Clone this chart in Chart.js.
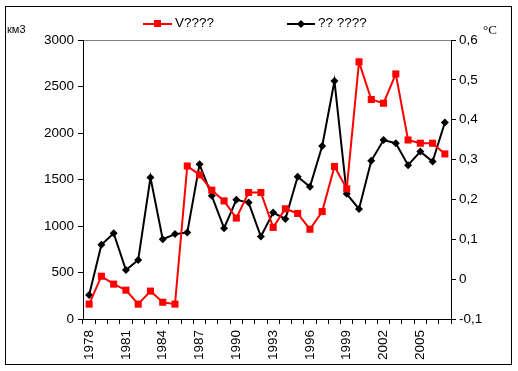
<!DOCTYPE html>
<html>
<head>
<meta charset="utf-8">
<script src="https://cdn.jsdelivr.net/npm/chart.js@4"></script>
<style>
  html, body { margin: 0; padding: 0; background: #fff; }
  #wrap { width: 518px; height: 371px; }
</style>
</head>
<body>
<div id="wrap"><canvas id="chart" width="518" height="371"></canvas></div>
<script>
// Data
const years = [1978, 1979, 1980, 1981, 1982, 1983, 1984, 1985, 1986, 1987,
               1988, 1989, 1990, 1991, 1992, 1993, 1994, 1995, 1996, 1997,
               1998, 1999, 2000, 2001, 2002, 2003, 2004, 2005, 2006, 2007];
const volume = [160, 460, 375, 310, 160, 300, 180, 160, 1645, 1550,
                1385, 1270, 1085, 1360, 1360, 985, 1185, 1135, 965, 1155,
                1640, 1400, 2765, 2360, 2320, 2635, 1925, 1890, 1890, 1775];
const temperature = [-0.04, 0.086, 0.115, 0.023, 0.048, 0.255, 0.1, 0.113, 0.117, 0.288,
                     0.209, 0.128, 0.199, 0.192, 0.107, 0.167, 0.151, 0.257, 0.232, 0.334,
                     0.497, 0.214, 0.176, 0.297, 0.349, 0.341, 0.286, 0.32, 0.295, 0.393];
const seriesNames = ['V????', '?? ????'];
const leftTicks = { min: 0, max: 3000, step: 500 };
const rightTicks = { min: -0.1, max: 0.6, step: 0.1 };

const font = { family: 'Liberation Sans, Arial, sans-serif', size: 13.5 };

// Frame, axis titles and legend
const extras = {
    id: 'extras',
    afterDraw(chart) {
        const ctx = chart.ctx;
        ctx.save();
        ctx.strokeStyle = '#000';
        ctx.lineWidth = 1;
        ctx.strokeRect(5.5, 6.5, 506, 358);

        ctx.fillStyle = '#000';
        ctx.textBaseline = 'middle';
        ctx.font = '11px Liberation Sans, Arial, sans-serif';
        ctx.fillText('км3', 7, 30);
        ctx.font = '13px Liberation Serif, Times New Roman, serif';
        ctx.fillText('°C', 483, 31);

        // legend
        ctx.font = '13.5px Liberation Sans, Arial, sans-serif';
        ctx.lineWidth = 2;
        ctx.strokeStyle = '#ff0000';
        ctx.beginPath(); ctx.moveTo(143, 24); ctx.lineTo(172, 24); ctx.stroke();
        ctx.fillStyle = '#ff0000';
        ctx.fillRect(154, 20, 7, 7);
        ctx.fillStyle = '#000';
        ctx.fillText(seriesNames[0], 175, 23);

        ctx.strokeStyle = '#000';
        ctx.beginPath(); ctx.moveTo(287, 24); ctx.lineTo(315, 24); ctx.stroke();
        ctx.beginPath();
        ctx.moveTo(301, 20); ctx.lineTo(305, 24); ctx.lineTo(301, 28); ctx.lineTo(297, 24);
        ctx.closePath(); ctx.fill();
        ctx.fillText(seriesNames[1], 318, 23);
        ctx.restore();
    }
};

new Chart(document.getElementById('chart'), {
    type: 'line',
    data: {
        labels: years,
        datasets: [{
            label: seriesNames[0],
            data: volume,
            yAxisID: 'y',
            borderColor: '#ff0000',
            backgroundColor: '#ff0000',
            borderWidth: 2,
            pointStyle: 'rect',
            pointRadius: 5,
            pointBorderWidth: 0,
            tension: 0
        }, {
            label: seriesNames[1],
            data: temperature,
            yAxisID: 'y1',
            borderColor: '#000000',
            backgroundColor: '#000000',
            borderWidth: 2,
            pointStyle: 'rectRot',
            pointRadius: 4,
            pointBorderWidth: 0,
            tension: 0
        }]
    },
    options: {
        responsive: false,
        animation: false,
        layout: { padding: { top: 40, left: 0, right: 0, bottom: 0 } },
        plugins: {
            legend: { display: false },
            tooltip: { enabled: false }
        },
        scales: {
            x: {
                offset: true,
                grid: { offset: true, drawOnChartArea: false, color: '#000', tickLength: 5 },
                border: { color: '#000', width: 1 },
                ticks: {
                    autoSkip: false,
                    maxRotation: 90,
                    minRotation: 90,
                    color: '#000',
                    font: font,
                    padding: 6,
                    callback: function (v, i) { return i % 3 === 0 ? String(years[i]) : ''; }
                },
                afterFit(scale) { scale.height = 52; }
            },
            y: {
                position: 'left',
                min: leftTicks.min,
                max: leftTicks.max,
                grid: {
                    color: c => c.tick && c.tick.value === leftTicks.max ? '#808080' : 'rgba(0,0,0,0)',
                    tickColor: '#000',
                    tickLength: 5
                },
                border: { color: '#000', width: 1 },
                ticks: {
                    stepSize: leftTicks.step,
                    color: '#000',
                    font: font,
                    padding: 4,
                    callback: v => String(v)
                },
                afterFit(scale) { scale.width = 83; }
            },
            y1: {
                position: 'right',
                min: rightTicks.min,
                max: rightTicks.max,
                grid: { drawOnChartArea: false, color: '#000', tickLength: 5 },
                border: { color: '#000', width: 1 },
                ticks: {
                    stepSize: rightTicks.step,
                    color: '#000',
                    font: font,
                    padding: 3,
                    callback: v => {
                        const r = Math.round(v * 10) / 10;
                        return r === 0 ? '0' : r.toFixed(1).replace('.', ',');
                    }
                },
                afterFit(scale) { scale.width = 67; }
            }
        }
    },
    plugins: [extras]
});
</script>
</body>
</html>
